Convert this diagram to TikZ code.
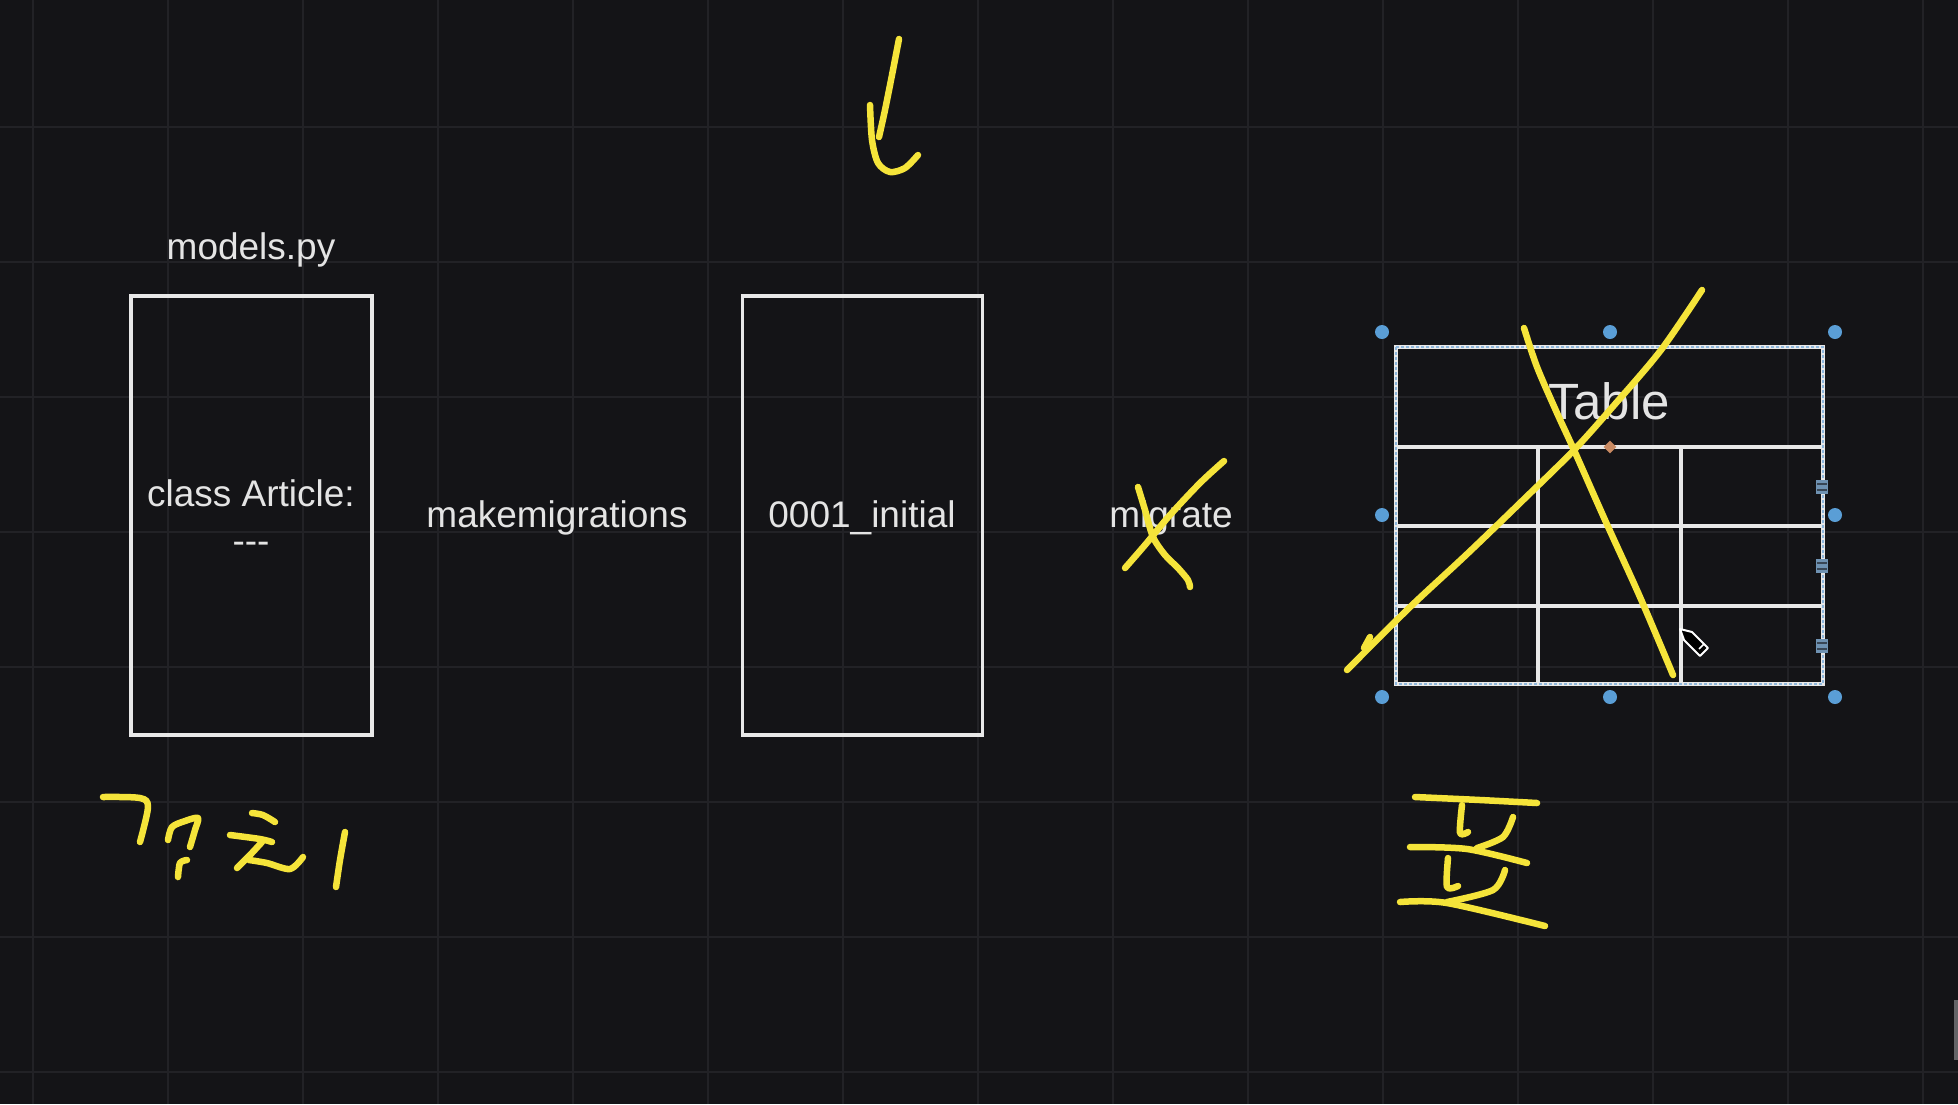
\documentclass[tikz,border=0pt]{standalone}
\usepackage{fontspec}
\setmainfont{Liberation Sans}
\definecolor{bg}{HTML}{141417}
\definecolor{gridc}{HTML}{222226}
\definecolor{boxc}{HTML}{E8E8E8}
\definecolor{txt}{HTML}{E4E4E4}
\definecolor{hl}{HTML}{F5E43A}
\definecolor{handle}{HTML}{5A9ED6}
\definecolor{sqc}{HTML}{6F92B2}
\definecolor{dia}{HTML}{C98A62}
\definecolor{selc}{HTML}{8DB6DC}
\begin{document}
\begin{tikzpicture}[x=1pt,y=-1pt,
  frame/.style={draw=boxc,line width=3.6pt,inner sep=0pt},
  lbl/.style={text=txt,font=\fontsize{37}{45}\selectfont,inner sep=0pt},
  biglbl/.style={text=txt,font=\fontsize{51}{60}\selectfont,inner sep=0pt},
  ink/.style={draw=hl,line width=6.5pt,line cap=round,line join=round},
  gridline/.style={draw=gridc,line width=1.3pt},
  tline/.style={draw=boxc,line width=3.2pt},
  grab/.style={circle,fill=handle,minimum size=14pt,inner sep=0pt},
  sidegrab/.style={rectangle,fill=sqc,minimum width=12pt,minimum height=14pt,inner sep=0pt}]
\useasboundingbox (0,0) rectangle (1958,1104);
\fill[bg] (0,0) rectangle (1958,1104);
% grid
\foreach \gx in {33,168,...,1923} \draw[gridline] (\gx,0) -- (\gx,1104);
\foreach \gy in {127,262,...,1072} \draw[gridline] (0,\gy) -- (1958,\gy);
% scrollbar
\fill[gridc!70!white] (1954,1000) rectangle (1958,1060);

% boxes
\node[frame,minimum width=241pt,minimum height=439pt] (models) at (251.5,515.5) {};
\node[frame,minimum width=240pt,minimum height=439pt] (initial) at (862.5,515.5) {};
\node[lbl] (modelsname) at (251,250) {models.py};
\node[lbl,anchor=base] (cls) at (251,506) {class Article:};
\node[lbl,anchor=base] (dashes) at (251,553) {-\kern0pt-\kern0pt-};
\node[lbl,anchor=base] (mk) at (557,527) {makemigrations};
\node[lbl,anchor=base] (init) at (862,527) {0001\_initial};
\node[lbl,anchor=base] (mig) at (1171,527) {migrate};

% table
\coordinate (tnw) at (1396,347);
\coordinate (tse) at (1823,684);
\draw[tline] (1396,447) -- (1823,447);
\draw[tline] (1396,526) -- (1823,526);
\draw[tline] (1396,606) -- (1823,606);
\draw[tline] (1538,447) -- (1538,684);
\draw[tline] (1681,447) -- (1681,684);
\draw[tline] (tnw) rectangle (tse);
\draw[selc,line width=1.3pt,dash pattern=on 3pt off 2pt] (tnw) rectangle (tse);
\node[biglbl,anchor=base] (tbl) at (1609,419) {Table};
% selection handles
\foreach \hx/\hy [count=\i] in {1382/332,1610/332,1835/332,1382/515,1835/515,1382/697,1610/697,1835/697}
  \node[grab] (h\i) at (\hx,\hy) {};
\foreach \sy [count=\i] in {487,566,646}{
  \node[sidegrab] (s\i) at (1822,\sy) {};
  \draw[bg!60!sqc,line width=1.2pt] (1817,\sy-3) -- (1827,\sy-3) (1817,\sy+3) -- (1827,\sy+3);
}
\node[fill=dia,rectangle,rotate=45,minimum width=9pt,minimum height=9pt,inner sep=0pt] (dm) at (1610,447) {};
% pencil cursor
\draw[white,line width=2pt,fill=black,line join=round] (1680,629) -- (1692,632) -- (1708,648) -- (1700,656) -- (1684,640) -- cycle;
\draw[white,line width=1.5pt] (1699,649) -- (1704,644);

% yellow ink
\draw[ink] plot[smooth] coordinates {(899,39) (892,75) (885,110) (879,137)};
\draw[ink] plot[smooth] coordinates {(870,105) (872,140) (878,163) (890,172) (905,168) (918,155)};
% migrate cross
\draw[ink] plot[smooth] coordinates {(1224,461) (1200,483) (1170,515) (1145,545) (1125,568)};
\draw[ink] plot[smooth] coordinates {(1138,487) (1145,510) (1153,537) (1165,555) (1178,568) (1188,580) (1190,587)};
% table cross
\draw[ink] plot[smooth] coordinates {(1702,290) (1661,350) (1616,403) (1574,450) (1520,503) (1466,555) (1408,609) (1347,670)};
\draw[ink] (1370,637) -- (1364,648);
\draw[ink] plot[smooth] coordinates {(1524,328) (1537,367) (1557,413) (1574,450) (1605,520) (1640,597) (1673,675)};
% handwriting left
\draw[ink] plot[smooth] coordinates {(103,797) (140,798) (148,807) (140,842)};
\draw[ink] plot[smooth] coordinates {(168,840) (172,827) (185,821) (198,818) (195,830) (190,847)};
\draw[ink] plot[smooth] coordinates {(187,860) (180,863) (178,877)};
\draw[ink] plot[smooth] coordinates {(252,813) (263,815) (275,822)};
\draw[ink] plot[smooth] coordinates {(230,835) (260,839) (272,842)};
\draw[ink] plot[smooth] coordinates {(262,842) (250,855) (237,868)};
\draw[ink] plot[smooth] coordinates {(249,860) (267,863) (290,869) (303,857)};
\draw[ink] plot[smooth] coordinates {(345,832) (340,860) (336,887)};
% handwriting right
\draw[ink] plot[smooth] coordinates {(1415,797) (1480,800) (1537,803)};
\draw[ink] plot[smooth] coordinates {(1462,805) (1460,833) (1468,832)};
\draw[ink] plot[smooth] coordinates {(1513,817) (1503,837) (1477,848)};
\draw[ink] plot[smooth] coordinates {(1410,847) (1467,849) (1527,863)};
\draw[ink] plot[smooth] coordinates {(1448,858) (1447,887) (1458,886)};
\draw[ink] plot[smooth] coordinates {(1505,870) (1493,890) (1447,902)};
\draw[ink] plot[smooth] coordinates {(1400,902) (1447,903) (1545,926)};
\end{tikzpicture}
\end{document}
